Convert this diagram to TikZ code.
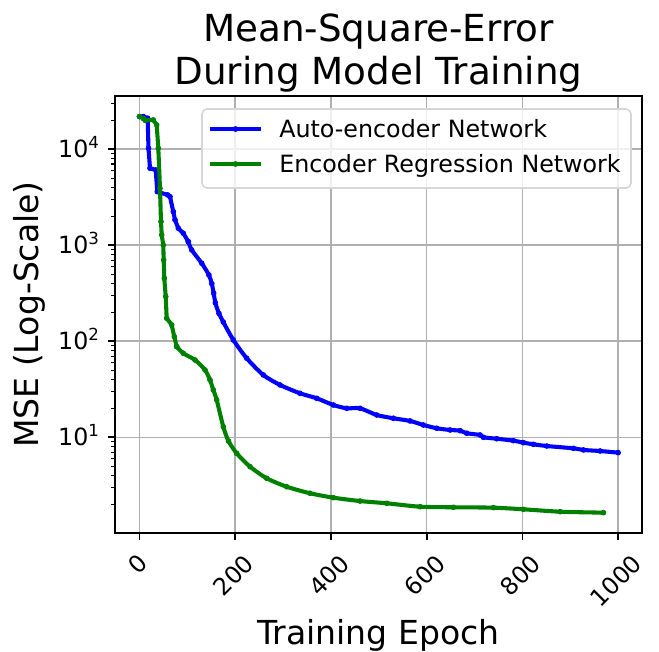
\documentclass[tikz,border=0pt]{standalone}
\usepackage{fontspec}
\setmainfont{DejaVu Sans}
\definecolor{aeblue}{RGB}{0, 0, 255}
\definecolor{ergreen}{RGB}{0, 128, 0}
\definecolor{gridgray}{RGB}{176, 176, 176}
\definecolor{legendgray}{RGB}{214, 214, 214}
\tikzset{
	gridline/.style={draw=gridgray, line width=1.1pt},
	axisframe/.style={draw=black, line width=1.2pt},
	majtick/.style={draw=black, line width=1.2pt},
	mintick/.style={draw=black, line width=0.85pt},
	ticklabel/.style={inner sep=0pt, font=\fontsize{16.9}{20}\selectfont},
	axislabel/.style={inner sep=0pt, font=\fontsize{23.5}{28}\selectfont},
	titletext/.style={inner sep=0pt, font=\fontsize{26.5}{32}\selectfont},
	curve/.style={line width=2.9pt, line join=round, line cap=round, mark=*, mark size=1.7pt},
	aecurve/.style={curve, draw=aeblue, mark options={line width=0.6pt, fill=aeblue}},
	ercurve/.style={curve, draw=ergreen, mark options={line width=0.6pt, fill=ergreen}},
	keyline/.style={line width=2.9pt},
	keydot/.style={circle, inner sep=0pt, minimum size=4.2pt},
	legendbox/.style={draw=legendgray, line width=1.1pt, fill=white, fill opacity=0.8, rounded corners=3.5pt},
}
\begin{document}
\begin{tikzpicture}[x=0.025cm, y=-0.025cm]
	\useasboundingbox (0,0) rectangle (659,652);
	% data frame: epoch along x, log10 of the MSE along y
	\begin{scope}[shift={(139.5,533.3)}, x=0.0119625cm, y=2.4cm]
		\foreach \e in {0,200,...,1000}
			\draw[gridline] (\e,0.003) -- (\e,4.555);
		\foreach \l in {1,...,4}
			\draw[gridline] (-51.2,\l) -- (1050.2,\l);
		% auto-encoder
		\draw[aecurve] plot coordinates {(0,4.34) (8,4.34) (17,4.323) (18.8,4.01) (21.9,3.802) (33.9,3.784) (37.2,3.558) (58.9,3.524) (63.7,3.506) (70.6,3.35) (74.2,3.264) (81.1,3.177) (91.5,3.125) (102,3.037)};
		\draw[aecurve] plot[smooth, tension=0.45] coordinates {(102,3.037) (109.1,2.951) (130,2.8125) (145,2.69) (151,2.6) (155,2.5) (158.5,2.4) (166,2.29) (175.1,2.2) (196,2.014) (224,1.823) (258.7,1.649) (293.6,1.545) (335.4,1.458) (370.3,1.406) (405,1.336) (433,1.302) (460.8,1.302) (495.7,1.232) (530.4,1.198) (565.3,1.17) (593.1,1.128) (621.1,1.094) (648.9,1.076) (669.8,1.069) (683.8,1.042) (711.6,1.024) (718.5,1.0) (746.5,0.985) (781.2,0.965) (802.1,0.944) (823,0.927) (851,0.909) (906.6,0.885) (927.5,0.868) (962.4,0.857) (1000,0.84)};
		% encoder regression
		\draw[ercurve] plot coordinates {(0,4.34) (7.9,4.32) (12,4.3) (28.8,4.305) (35.9,4.253) (39.3,4.01) (42.8,3.594) (44.9,3.246) (46.4,3.107) (49.7,3.003) (50.5,2.847) (51.8,2.656) (54.8,2.465) (56.8,2.24) (67.3,2.17) (72.7,2.048) (77.7,1.944)};
		\draw[ercurve] plot[smooth, tension=0.45] coordinates {(77.7,1.944) (91.5,1.875) (116,1.805) (136.9,1.701) (147.3,1.597) (154.2,1.493) (161.3,1.389) (175.1,1.11) (186,0.96) (203.1,0.833) (230.9,0.694) (265.8,0.573) (307.6,0.485) (356.3,0.417) (405,0.371) (460.8,0.336) (516.6,0.3125) (586.2,0.277) (655.8,0.271) (739.4,0.267) (802.1,0.25) (878.8,0.225) (969.3,0.215)};
		\draw[axisframe] (-51.2,0.003) rectangle (1050.2,4.555);
		\foreach \e/\dy in {0/22.3, 200/30.2, 400/30.2, 600/30.2, 800/30.2, 1000/34}{
			\draw[majtick] (\e,0.003) -- ++(0,-5pt);
			\node[ticklabel, rotate=45] (xt\e) at ([xshift=-1.4pt, yshift=-\dy pt]\e,0.003) {\e};
		}
		\foreach \l in {1,...,4}{
			\draw[majtick] (-51.2,\l) -- ++(-5pt,0);
			\node[ticklabel, anchor=base east] (yt\l) at ([xshift=-10.7pt, yshift=-6pt]-51.2,\l) {10\textsuperscript{\l}};
		}
		\foreach \d in {0,...,3}
			\foreach \m in {2,...,9}
				\draw[mintick] (-51.2,{\d+log10(\m)}) -- ++(-2.85pt,0);
		\foreach \m in {2,3}
			\draw[mintick] (-51.2,{4+log10(\m)}) -- ++(-2.85pt,0);
	\end{scope}
	% legend
	\draw[legendbox] (202,109) rectangle (631,188);
	\draw[keyline, draw=aeblue] (210,129) -- (261,129) node[keydot, fill=aeblue, midway] (aekey) {};
	\draw[keyline, draw=ergreen] (210,164) -- (261,164) node[keydot, fill=ergreen, midway] (erkey) {};
	\node[ticklabel, anchor=base west] (aelabel) at (279,137) {Auto-encoder Network};
	\node[ticklabel, anchor=base west] (erlabel) at (279,172.5) {Encoder Regression Network};
	% titles
	\node[titletext, anchor=base] (title) at (378.5,41) {Mean-Square-Error};
	\node[titletext, anchor=base] (title2) at (378.5,84) {During Model Training};
	\node[axislabel, anchor=base] (xlabel) at (378.5,644) {Training Epoch};
	\node[axislabel, rotate=90] (ylabel) at (29,314.5) {MSE (Log-Scale)};
\end{tikzpicture}
\end{document}
